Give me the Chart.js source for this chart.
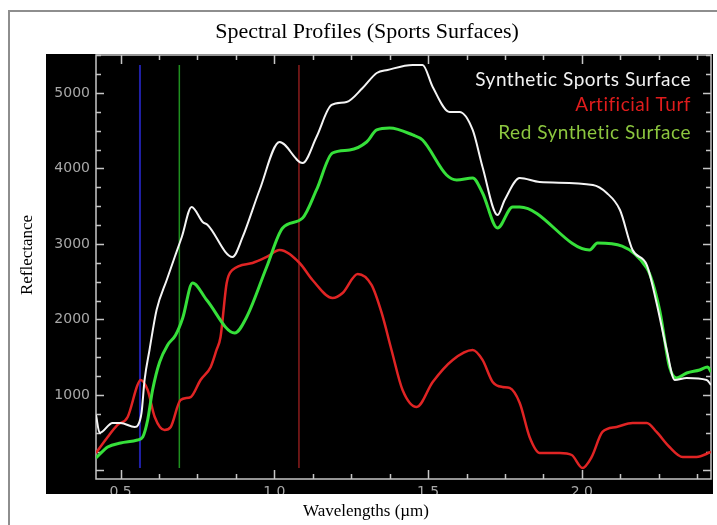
<!DOCTYPE html>
<html>
<head>
<meta charset="utf-8">
<script src="https://cdn.jsdelivr.net/npm/chart.js@4.4.1/dist/chart.umd.min.js"></script>
<style>
  html, body { margin: 0; padding: 0; background: #fff; }
  canvas { display: block; }
</style>
</head>
<body>
<canvas id="c" width="717" height="525"></canvas>
<script>
// Spectral profiles: wavelength (µm) and reflectance for each surface
const seriesNames = ['Synthetic Sports Surface', 'Artificial Turf', 'Red Synthetic Surface'];

const synthWl = [0.42, 0.432, 0.474, 0.50, 0.546, 0.557, 0.568, 0.578, 0.594, 0.617, 0.650, 0.676, 0.699,
  0.731, 0.767, 0.783, 0.864, 0.897, 0.952, 1.017, 1.092, 1.137, 1.186, 1.235, 1.287, 1.333, 1.368,
  1.450, 1.482, 1.515, 1.570, 1.602, 1.645, 1.677, 1.726, 1.749, 1.798, 1.863, 2.036, 2.081, 2.124,
  2.165, 2.211, 2.243, 2.276, 2.302, 2.341, 2.406, 2.42];
const synthRefl = [735, 497, 629, 629, 576, 603, 762, 1199, 1596, 2126, 2523, 2828, 3093,
  3490, 3291, 3252, 2828, 3093, 3715, 4351, 4073, 4417, 4841, 4881, 5066, 5265, 5305,
  5371, 5371, 5080, 4749, 4749, 4510, 4020, 3384, 3583, 3874, 3821, 3781, 3675, 3450,
  2920, 2722, 2219, 1596, 1199, 1225, 1199, 1132];

const turfWl = [0.42, 0.458, 0.490, 0.523, 0.555, 0.565, 0.588, 0.611, 0.643, 0.663, 0.695, 0.728, 0.760,
  0.793, 0.812, 0.825, 0.845, 0.864, 0.929, 0.975, 1.017, 1.082, 1.124, 1.189, 1.222, 1.271, 1.316,
  1.349, 1.381, 1.417, 1.463, 1.515, 1.580, 1.645, 1.677, 1.710, 1.742, 1.765, 1.798, 1.830, 1.863,
  1.928, 1.967, 2.002, 2.032, 2.067, 2.113, 2.165, 2.211, 2.243, 2.285, 2.328, 2.373, 2.42];
const turfRefl = [232, 444, 603, 709, 1132, 1199, 1066, 709, 536, 576, 934, 973, 1199,
  1371, 1596, 1768, 2483, 2656, 2748, 2828, 2920, 2748, 2523, 2285, 2351, 2603, 2457,
  2086, 1596, 1066, 841, 1172, 1464, 1596, 1464, 1172, 1106, 1093, 894, 444, 232,
  232, 205, 33, 179, 510, 576, 629, 629, 510, 311, 179, 179, 245];

const redSynWl = [0.42, 0.458, 0.50, 0.555, 0.572, 0.588, 0.604, 0.627, 0.653, 0.679, 0.702, 0.734, 0.780,
  0.871, 0.910, 0.975, 1.027, 1.092, 1.137, 1.189, 1.245, 1.300, 1.333, 1.375, 1.450, 1.482, 1.560,
  1.593, 1.645, 1.677, 1.726, 1.775, 1.798, 2.025, 2.051, 2.211, 2.253, 2.285, 2.308, 2.341, 2.383,
  2.409, 2.42];
const redSynRefl = [166, 311, 364, 404, 444, 669, 1066, 1437, 1662, 1795, 2020, 2483, 2258,
  1821, 2033, 2695, 3212, 3344, 3715, 4205, 4245, 4351, 4510, 4536, 4444, 4377, 3914,
  3848, 3874, 3675, 3212, 3490, 3490, 2920, 3013, 2682, 2126, 1371, 1225, 1291, 1331,
  1371, 1305];

// RGB display band markers (µm) and their vertical extent (data min..max)
const markerWl = [0.563, 0.691, 1.080];
const markerColors = ['#2020a8', '#1f8f1f', '#8a1c1c'];
const markerSpan = [33, 5371];

// axis ranges and tick labels
const xMin = 0.42, xMax = 2.42, xMinorStep = 0.125, xMajorStep = 0.5;
const yMin = -113, yMax = 5503, yMinorStep = 250, yMajorStep = 1000;
const xTickLabels = [0.5, 1.0, 1.5, 2.0];
const yTickLabels = [1000, 2000, 3000, 4000, 5000];

const toPoints = (wl, r) => wl.map((w, i) => ({ x: w, y: r[i] }));

const curveColors = ['#f4f4f4', '#e02424', '#36e03a'];
const legendColors = ['#f2f2f2', '#e01c1c', '#8cc63f'];

const datasets = [
  { label: seriesNames[0], data: toPoints(synthWl, synthRefl), borderColor: curveColors[0], borderWidth: 2 },
  { label: seriesNames[2], data: toPoints(redSynWl, redSynRefl), borderColor: curveColors[2], borderWidth: 3 },
  { label: seriesNames[1], data: toPoints(turfWl, turfRefl), borderColor: curveColors[1], borderWidth: 2.5 }
].map(d => Object.assign(d, { pointRadius: 0, cubicInterpolationMode: 'monotone', fill: false }));

markerWl.forEach((w, i) => {
  datasets.push({
    label: 'band ' + (i + 1),
    data: [{ x: w, y: markerSpan[0] }, { x: w, y: markerSpan[1] }],
    borderColor: markerColors[i], borderWidth: i === 0 ? 2 : 1.5, pointRadius: 0, tension: 0
  });
});

// page frame, black plot panel, inward ticks, titles and in-plot legend
const panelPlugin = {
  id: 'panel',
  beforeDraw(chart) {
    const { ctx, chartArea: a } = chart;
    ctx.save();
    ctx.fillStyle = '#ffffff';
    ctx.fillRect(0, 0, chart.width, chart.height);
    ctx.strokeStyle = '#8e8e8e';
    ctx.lineWidth = 2;
    ctx.strokeRect(9, 11, 740, 560);
    ctx.fillStyle = '#000000';
    ctx.fillRect(a.left - 50, a.top - 1, a.width + 52, a.height + 16);
    ctx.restore();
  },
  beforeDatasetsDraw(chart) {
    const { ctx, chartArea: a, scales: { x, y } } = chart;
    ctx.save();
    ctx.strokeStyle = '#c6c6c6';
    ctx.lineWidth = 1.5;
    ctx.beginPath();
    for (let k = Math.ceil(xMin / xMinorStep); k * xMinorStep <= xMax; k++) {
      const v = k * xMinorStep;
      const major = Math.abs(v / xMajorStep - Math.round(v / xMajorStep)) < 1e-6;
      const len = major ? 9 : 5;
      const px = Math.round(x.getPixelForValue(v)) + 0.5;
      ctx.moveTo(px, a.bottom); ctx.lineTo(px, a.bottom - len);
      ctx.moveTo(px, a.top); ctx.lineTo(px, a.top + len);
    }
    for (let k = Math.ceil(yMin / yMinorStep); k * yMinorStep <= yMax; k++) {
      const v = k * yMinorStep;
      if (v < 0) continue;
      const major = v % yMajorStep === 0;
      const len = major ? 8 : 5;
      const py = Math.round(y.getPixelForValue(v)) + 0.5;
      ctx.moveTo(a.left, py); ctx.lineTo(a.left + len, py);
      ctx.moveTo(a.right, py); ctx.lineTo(a.right - len, py);
    }
    ctx.stroke();
    ctx.strokeRect(a.left, a.top, a.width, a.height);
    ctx.restore();
  },
  afterDraw(chart) {
    const { ctx, chartArea: a } = chart;
    ctx.save();
    // panel edge trims the wavelength labels
    ctx.fillStyle = '#ffffff';
    ctx.fillRect(a.left - 50, a.bottom + 15, a.width + 52, 9);

    ctx.fillStyle = '#000000';
    ctx.textAlign = 'center';
    ctx.textBaseline = 'middle';
    ctx.font = '22px "Liberation Serif"';
    ctx.fillText('Spectral Profiles (Sports Surfaces)', 367, 32);
    ctx.font = '17px "Liberation Serif"';
    ctx.fillText('Wavelengths (\u00b5m)', 366, 512);
    ctx.save();
    ctx.translate(28, 255);
    ctx.rotate(-Math.PI / 2);
    ctx.font = '17px "Liberation Serif"';
    ctx.fillText('Reflectance', 0, 0);
    ctx.restore();

    ctx.textAlign = 'right';
    ctx.font = '19px Lato';
    ctx.letterSpacing = '0.5px';
    const rows = [80, 105, 133];
    seriesNames.forEach((name, i) => {
      ctx.fillStyle = legendColors[i];
      ctx.fillText(name, 691, rows[i]);
    });
    ctx.restore();
  }
};

new Chart(document.getElementById('c'), {
  type: 'line',
  data: { datasets },
  plugins: [panelPlugin],
  options: {
    responsive: false,
    animation: false,
    devicePixelRatio: 1,
    layout: { padding: { left: 0, top: 55, right: 6, bottom: 0 } },
    plugins: { legend: { display: false }, tooltip: { enabled: false }, title: { display: false } },
    scales: {
      x: {
        type: 'linear', min: xMin, max: xMax,
        grid: { display: false, drawTicks: false },
        border: { display: false },
        ticks: {
          color: '#a8a8a8', padding: 5, maxRotation: 0, autoSkip: false,
          font: { family: 'DejaVu Sans', size: 14 },
          callback: v => v.toFixed(1)
        },
        afterBuildTicks: s => { s.ticks = xTickLabels.map(v => ({ value: v })); },
        afterFit: s => { s.height = 46; }
      },
      y: {
        type: 'linear', min: yMin, max: yMax,
        grid: { display: false, drawTicks: false },
        border: { display: false },
        ticks: {
          color: '#a8a8a8', padding: 6, autoSkip: false,
          font: { family: 'DejaVu Sans', size: 14 },
          callback: v => String(v)
        },
        afterBuildTicks: s => { s.ticks = yTickLabels.map(v => ({ value: v })); },
        afterFit: s => { s.width = 96; }
      }
    }
  }
});
</script>
</body>
</html>
